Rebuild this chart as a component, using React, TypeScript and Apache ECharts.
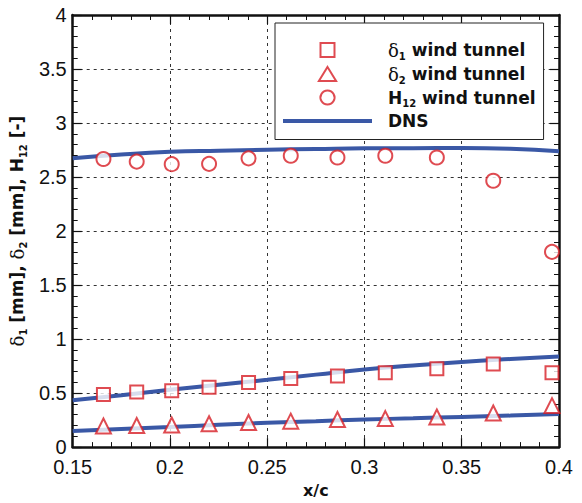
import React, { useEffect, useRef } from "react";
import * as echarts from "echarts";

const xExp = [0.1658, 0.1829, 0.2009, 0.2201, 0.2404, 0.2621, 0.2861, 0.3107, 0.3372, 0.3662, 0.3964];
const delta1Exp = [0.488, 0.509, 0.521, 0.554, 0.599, 0.635, 0.659, 0.689, 0.725, 0.77, 0.689];
const delta2Exp = [0.195, 0.2, 0.205, 0.216, 0.228, 0.24, 0.255, 0.264, 0.279, 0.315, 0.384];
const h12Exp = [2.667, 2.643, 2.619, 2.622, 2.673, 2.697, 2.681, 2.697, 2.681, 2.466, 1.807];

const xDns = [0.15, 0.175, 0.2, 0.225, 0.25, 0.275, 0.3, 0.325, 0.35, 0.375, 0.4];
const delta1Dns = [0.434, 0.48, 0.53, 0.577, 0.623, 0.671, 0.719, 0.755, 0.788, 0.815, 0.839];
const delta2Dns = [0.15, 0.168, 0.186, 0.206, 0.225, 0.24, 0.255, 0.267, 0.279, 0.292, 0.306];
const h12Dns = [2.673, 2.708, 2.733, 2.744, 2.753, 2.76, 2.766, 2.767, 2.769, 2.762, 2.739];

const legendNames = ["d1", "d2", "H12", "DNS"];

const RED = "#d71e26";
const BLUE = "#3a58a6";
const FONT = "Liberation Sans, Arial, sans-serif";
const BOLDFONT = "DejaVu Sans, sans-serif";

const zip = (xs: number[], ys: number[]) => xs.map((x, i) => [x, ys[i]]);

export default function App() {
  const ref = useRef<HTMLDivElement>(null);
  useEffect(() => {
    if (!ref.current) return;
    const chart = echarts.init(ref.current, null, { renderer: "svg" });
    const axisCommon = {
      type: "value" as const,
      axisLine: { show: true, onZero: false, lineStyle: { color: "#111", width: 2.5 } },
      axisTick: { show: true, inside: true, length: 9, lineStyle: { color: "#111", width: 1.2 } },
      minorTick: { show: true, splitNumber: 5, length: 5, lineStyle: { color: "#111", width: 1 } },
    };
    const legendRich = {
      g: { fontFamily: "DejaVu Serif, serif", fontSize: 18, fontWeight: "normal", color: "#111", lineHeight: 22, padding: [0, 0, 0, 11] },
      gh: { fontFamily: BOLDFONT, fontSize: 17, fontWeight: "bold", color: "#111", lineHeight: 22, padding: [0, 0, 0, 11] },
      s: { fontFamily: BOLDFONT, fontSize: 10, fontWeight: "bold", color: "#111", lineHeight: 10, verticalAlign: "bottom" },
      b: { fontFamily: BOLDFONT, fontSize: 17, fontWeight: "bold", color: "#111", lineHeight: 22 },
    };
    const emptyStyle = { color: "#fff", borderColor: RED, borderWidth: 2 };
    chart.setOption({
      animation: false,
      backgroundColor: "#fff",
      grid: { left: 72, right: 23, top: 15, bottom: 43, containLabel: false },
      xAxis: [
        {
          ...axisCommon,
          min: 0.15,
          max: 0.4,
          interval: 0.05,
          position: "bottom",
          name: "x/c",
          nameLocation: "middle",
          nameGap: 34,
          nameTextStyle: { fontFamily: BOLDFONT, fontSize: 16, fontWeight: "bold", color: "#111" },
          axisLabel: { fontFamily: FONT, fontSize: 20, color: "#111", margin: 10 },
          splitLine: { show: true, lineStyle: { color: "#333", type: [3, 4], width: 1 } },
        },
        {
          ...axisCommon,
          min: 0.15,
          max: 0.4,
          interval: 0.05,
          position: "top",
          axisLabel: { show: false },
          splitLine: { show: false },
        },
      ],
      yAxis: [
        {
          ...axisCommon,
          min: 0,
          max: 4,
          interval: 0.5,
          position: "left",
          name: "{g|δ}{s|1}{b| [mm], }{g|δ}{s|2}{b| [mm], H}{s|12}{b| [-]}",
          nameLocation: "middle",
          nameGap: 35,
          nameTextStyle: {
            rich: {
              g: { fontFamily: "DejaVu Serif, serif", fontSize: 18, color: "#111", lineHeight: 22 },
              s: { fontFamily: BOLDFONT, fontSize: 10, fontWeight: "bold", color: "#111", lineHeight: 10, verticalAlign: "bottom" },
              b: { fontFamily: BOLDFONT, fontSize: 17, fontWeight: "bold", color: "#111", lineHeight: 22 },
            },
          },
          axisLabel: { fontFamily: FONT, fontSize: 20, color: "#111", margin: 6 },
          splitLine: { show: true, lineStyle: { color: "#333", type: [3, 4], width: 1 } },
        },
        {
          ...axisCommon,
          min: 0,
          max: 4,
          interval: 0.5,
          position: "right",
          axisLabel: { show: false },
          splitLine: { show: false },
        },
      ],
      legend: {
        show: true,
        data: [
          { name: legendNames[0], icon: "path://M1,1L14,1L14,14L1,14Z", itemStyle: emptyStyle },
          { name: legendNames[1], icon: "path://M8,1L16,14L0,14Z", itemStyle: emptyStyle },
          { name: legendNames[2], icon: "path://M7.5,1A6.5,6.5,0,1,1,7.49,1Z", itemStyle: emptyStyle },
          { name: legendNames[3], icon: "path://M0,0L89,0L89,4L0,4Z", itemStyle: { color: BLUE, borderWidth: 0 } },
        ],
        orient: "vertical",
        left: 275,
        top: 23,
        padding: [18, 8, 10, 8],
        itemGap: 4,
        itemWidth: 89,
        itemHeight: 14,
        symbolKeepAspect: true,
        backgroundColor: "#fff",
        borderColor: "#222",
        borderWidth: 1,
        textStyle: { rich: legendRich },
        formatter: (name: string) => {
          if (name === "d1") return "{g|δ}{s|1}{b| wind tunnel}";
          if (name === "d2") return "{g|δ}{s|2}{b| wind tunnel}";
          if (name === "H12") return "{gh|H}{s|12}{b| wind tunnel}";
          return "{gh|DNS}";
        },
      },
      series: [
        {
          name: "DNS",
          type: "line",
          data: zip(xDns, h12Dns),
          smooth: true,
          symbol: "none",
          lineStyle: { color: BLUE, width: 4 },
          itemStyle: { color: BLUE },
          z: 2,
        },
        {
          name: "DNS",
          type: "line",
          data: zip(xDns, delta1Dns),
          smooth: true,
          symbol: "none",
          lineStyle: { color: BLUE, width: 4 },
          itemStyle: { color: BLUE },
          z: 2,
        },
        {
          name: "DNS",
          type: "line",
          data: zip(xDns, delta2Dns),
          smooth: true,
          symbol: "none",
          lineStyle: { color: BLUE, width: 4 },
          itemStyle: { color: BLUE },
          z: 2,
        },
        {
          name: "d1",
          type: "scatter",
          data: zip(xExp, delta1Exp),
          symbol: "emptyRect",
          symbolSize: 13,
          itemStyle: { color: RED, borderColor: RED, borderWidth: 2.2 },
          z: 3,
        },
        {
          name: "d2",
          type: "scatter",
          data: zip(xExp, delta2Exp),
          symbol: "emptyTriangle",
          symbolSize: 15,
          itemStyle: { color: RED, borderColor: RED, borderWidth: 2.2 },
          z: 3,
        },
        {
          name: "H12",
          type: "scatter",
          data: zip(xExp, h12Exp),
          symbol: "emptyCircle",
          symbolSize: 14,
          itemStyle: { color: RED, borderColor: RED, borderWidth: 2.2 },
          z: 3,
        },
      ],
    });
    return () => chart.dispose();
  }, []);
  return <div ref={ref} style={{ width: 582, height: 503, position: "absolute", left: 0, top: 0 }} />;
}
